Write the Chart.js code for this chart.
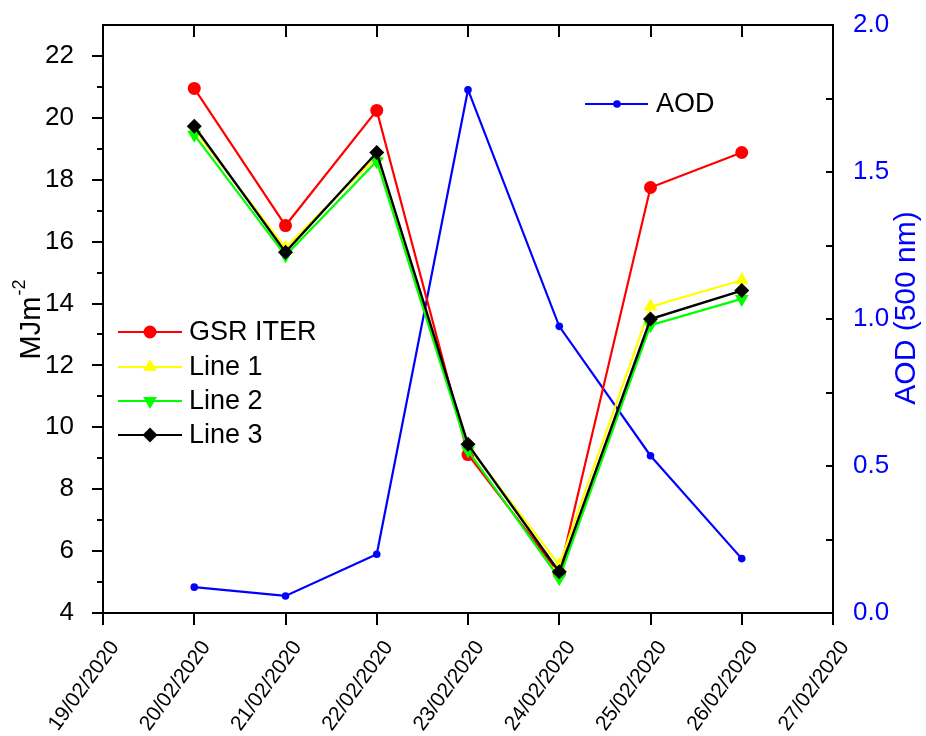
<!DOCTYPE html>
<html>
<head>
<meta charset="utf-8">
<script src="https://cdn.jsdelivr.net/npm/chart.js@4/dist/chart.umd.min.js"></script>
<style>
  html, body { margin: 0; padding: 0; background: #fff; }
  #wrap { width: 926px; height: 736px; }
</style>
</head>
<body>
<div id="wrap"><canvas id="c" width="926" height="736"></canvas></div>
<script>
// ---- data ----
const dates = ['19/02/2020','20/02/2020','21/02/2020','22/02/2020','23/02/2020','24/02/2020','25/02/2020','26/02/2020','27/02/2020'];
const obsDates = ['20/02/2020','21/02/2020','22/02/2020','23/02/2020','24/02/2020','25/02/2020','26/02/2020'];
const gsrIter = [20.95, 16.52, 20.24, 9.12, 5.28, 17.75, 18.88];
const line1   = [19.62, 15.80, 18.75, 9.40, 5.55, 13.90, 14.75];
const line2   = [19.45, 15.55, 18.60, 9.25, 5.12, 13.30, 14.15];
const line3   = [19.73, 15.66, 18.88, 9.45, 5.33, 13.50, 14.42];
const aod     = [0.088, 0.058, 0.200, 1.780, 0.975, 0.535, 0.185];
const leftTicks = [4, 6, 8, 10, 12, 14, 16, 18, 20, 22];
const rightTicks = ['0.0', '0.5', '1.0', '1.5', '2.0'];

const FONT = "'Liberation Sans', Arial, sans-serif";
const BLUE = '#0000ff';

function pts(vals) { return obsDates.map((d, i) => ({ x: d, y: vals[i] })); }

function drawMarker(ctx, style, x, y, r, color, rot) {
  ctx.save();
  ctx.fillStyle = color;
  ctx.beginPath();
  if (style === 'circle') {
    ctx.arc(x, y, r, 0, Math.PI * 2);
  } else if (style === 'triangle') {
    let rad = (rot || 0) * Math.PI / 180;
    ctx.moveTo(x + Math.sin(rad) * r, y - Math.cos(rad) * r);
    rad += 2 * Math.PI / 3;
    ctx.lineTo(x + Math.sin(rad) * r, y - Math.cos(rad) * r);
    rad += 2 * Math.PI / 3;
    ctx.lineTo(x + Math.sin(rad) * r, y - Math.cos(rad) * r);
    ctx.closePath();
  } else if (style === 'rectRot') {
    ctx.moveTo(x, y - r); ctx.lineTo(x + r, y); ctx.lineTo(x, y + r); ctx.lineTo(x - r, y);
    ctx.closePath();
  }
  ctx.fill();
  ctx.restore();
}

function zeroPad(s) { s.paddingTop = 0; s.paddingBottom = 0; s.paddingLeft = 0; s.paddingRight = 0; }

const decor = {
  id: 'decor',
  afterDraw(chart) {
    const { ctx, chartArea: a, scales } = chart;
    const ys = scales.y, y2 = scales.y2, xs = scales.x;
    ctx.save();
    ctx.strokeStyle = '#000';
    ctx.lineWidth = 2;
    ctx.strokeRect(a.left, a.top, a.right - a.left, a.bottom - a.top);
    ctx.beginPath();
    for (let v = 4; v < 23; v++) {
      const py = Math.round(ys.getPixelForValue(v));
      const len = v % 2 === 0 ? 11 : 6;
      ctx.moveTo(a.left, py); ctx.lineTo(a.left - len, py);
    }
    for (let k = 1; k < 8; k++) {
      const py = Math.round(y2.getPixelForValue(k * 0.25));
      ctx.moveTo(a.right, py); ctx.lineTo(a.right - 7, py);
    }
    for (let i = 0; i < dates.length; i++) {
      const px = Math.round(xs.getPixelForValue(i));
      ctx.moveTo(px, a.bottom); ctx.lineTo(px, a.bottom + 12);
      ctx.moveTo(px, a.top); ctx.lineTo(px, a.top + 12);
    }
    ctx.stroke();

    // left axis title: MJm^-2
    ctx.fillStyle = '#000';
    ctx.save();
    ctx.translate(30, 320);
    ctx.rotate(-Math.PI / 2);
    ctx.textBaseline = 'alphabetic';
    ctx.textAlign = 'left';
    ctx.font = '29px ' + FONT;
    const w1 = ctx.measureText('MJm').width;
    ctx.font = '18px ' + FONT;
    const w2 = ctx.measureText('-2').width;
    const sx = -(w1 + w2) / 2;
    ctx.font = '29px ' + FONT;
    ctx.fillText('MJm', sx, 10);
    ctx.font = '18px ' + FONT;
    ctx.fillText('-2', sx + w1 + 1, -5);
    ctx.restore();

    // right axis title
    ctx.save();
    ctx.translate(905, 308);
    ctx.rotate(-Math.PI / 2);
    ctx.fillStyle = BLUE;
    ctx.textAlign = 'center';
    ctx.textBaseline = 'alphabetic';
    ctx.font = '30px ' + FONT;
    ctx.fillText('AOD (500 nm)', 0, 10);
    ctx.restore();

    // legends
    const leg = [
      { label: 'GSR ITER', color: '#ff0000', style: 'circle', r: 6.5, rot: 0 },
      { label: 'Line 1', color: '#ffff00', style: 'triangle', r: 8, rot: 0 },
      { label: 'Line 2', color: '#00ff00', style: 'triangle', r: 8, rot: 180 },
      { label: 'Line 3', color: '#000000', style: 'rectRot', r: 7.5, rot: 0 }
    ];
    const rowsY = [332, 367, 401, 435];
    ctx.font = '27px ' + FONT;
    ctx.textBaseline = 'middle';
    ctx.textAlign = 'left';
    leg.forEach((e, i) => {
      const yy = rowsY[i];
      ctx.strokeStyle = e.color; ctx.lineWidth = 2.2;
      ctx.beginPath(); ctx.moveTo(118, yy); ctx.lineTo(182, yy); ctx.stroke();
      drawMarker(ctx, e.style, 150, yy, e.r, e.color, e.rot);
      ctx.fillStyle = '#000';
      ctx.fillText(e.label, 189, yy + 1);
    });
    ctx.strokeStyle = BLUE; ctx.lineWidth = 2.2;
    ctx.beginPath(); ctx.moveTo(585, 104); ctx.lineTo(648, 104); ctx.stroke();
    drawMarker(ctx, 'circle', 617, 104, 3.8, BLUE, 0);
    ctx.fillStyle = '#000';
    ctx.fillText('AOD', 656, 105);
    ctx.restore();
  }
};

const chart = new Chart(document.getElementById('c'), {
  type: 'line',
  data: {
    labels: dates,
    datasets: [
      { label: 'Line 3', data: pts(line3), yAxisID: 'y', borderColor: '#000', backgroundColor: '#000',
        borderWidth: 2.4, pointStyle: 'rectRot', pointRadius: 7.5, pointBorderWidth: 0, order: 0 },
      { label: 'Line 2', data: pts(line2), yAxisID: 'y', borderColor: '#00ff00', backgroundColor: '#00ff00',
        borderWidth: 2.2, pointStyle: 'triangle', pointRotation: 180, pointRadius: 8, pointBorderWidth: 0, order: 1 },
      { label: 'Line 1', data: pts(line1), yAxisID: 'y', borderColor: '#ffff00', backgroundColor: '#ffff00',
        borderWidth: 2.2, pointStyle: 'triangle', pointRadius: 8, pointBorderWidth: 0, order: 2 },
      { label: 'GSR ITER', data: pts(gsrIter), yAxisID: 'y', borderColor: '#ff0000', backgroundColor: '#ff0000',
        borderWidth: 2.2, pointStyle: 'circle', pointRadius: 6.5, pointBorderWidth: 0, order: 3 },
      { label: 'AOD', data: pts(aod), yAxisID: 'y2', borderColor: BLUE, backgroundColor: BLUE,
        borderWidth: 2.2, pointStyle: 'circle', pointRadius: 3.8, pointBorderWidth: 0, order: 4 }
    ]
  },
  options: {
    responsive: false,
    animation: false,
    events: [],
    layout: { padding: { top: 25, left: 0, right: 0, bottom: 0 } },
    plugins: { legend: { display: false }, tooltip: { enabled: false }, title: { display: false } },
    scales: {
      x: {
        type: 'category',
        offset: false,
        grid: { display: false },
        border: { display: false },
        ticks: {
          autoSkip: false, maxRotation: 54, minRotation: 54,
          color: '#000', font: { family: FONT, size: 21 }, padding: 15, labelOffset: 12
        },
        afterFit(s) { s.height = 123; zeroPad(s); }
      },
      y: {
        type: 'linear', position: 'left', min: 4, max: 23,
        grid: { display: false }, border: { display: false },
        ticks: { stepSize: 2, includeBounds: false, color: '#000', font: { family: FONT, size: 26 }, padding: 21,
          callback: (v) => leftTicks.includes(v) ? String(v) : '' },
        afterFit(s) { s.width = 103; zeroPad(s); }
      },
      y2: {
        type: 'linear', position: 'right', min: 0, max: 2,
        grid: { display: false }, border: { display: false },
        ticks: { stepSize: 0.5, color: BLUE, font: { family: FONT, size: 26 }, padding: 12,
          callback: (v, i) => rightTicks[i] },
        afterFit(s) { s.width = 93; zeroPad(s); }
      }
    }
  },
  plugins: [decor]
});
</script>
</body>
</html>
